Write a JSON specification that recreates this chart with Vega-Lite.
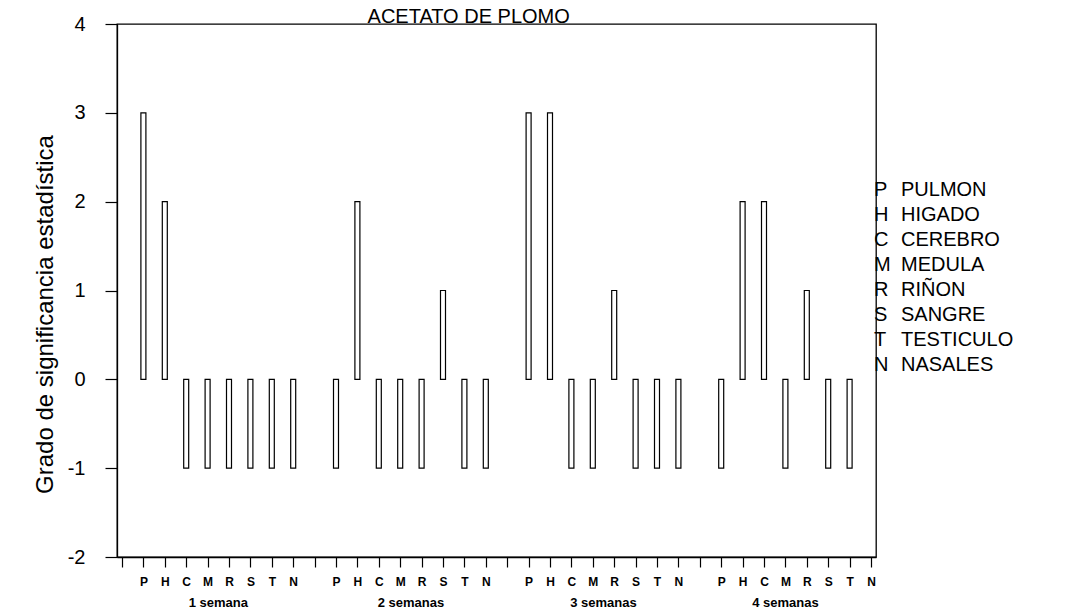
{
  "$schema": "https://vega.github.io/schema/vega-lite/v6.json",
  "width": 759,
  "height": 533,
  "autosize": "none",
  "padding": {"left": 117, "top": 24, "right": 193, "bottom": 56},
  "background": "white",
  "config": {
    "view": {"stroke": "black", "strokeWidth": 1.3},
    "font": "Liberation Sans",
    "axisX": {"labelOverlap": false, "labelFlush": false, "labelBound": false},
    "axisY": {"labelOverlap": false}
  },
  "datasets": {
    "bars": [
      {"week": "1 semana", "organ": "P", "idx": 1, "val": 3},
      {"week": "1 semana", "organ": "H", "idx": 2, "val": 2},
      {"week": "1 semana", "organ": "C", "idx": 3, "val": -1},
      {"week": "1 semana", "organ": "M", "idx": 4, "val": -1},
      {"week": "1 semana", "organ": "R", "idx": 5, "val": -1},
      {"week": "1 semana", "organ": "S", "idx": 6, "val": -1},
      {"week": "1 semana", "organ": "T", "idx": 7, "val": -1},
      {"week": "1 semana", "organ": "N", "idx": 8, "val": -1},
      {"week": "2 semanas", "organ": "P", "idx": 10, "val": -1},
      {"week": "2 semanas", "organ": "H", "idx": 11, "val": 2},
      {"week": "2 semanas", "organ": "C", "idx": 12, "val": -1},
      {"week": "2 semanas", "organ": "M", "idx": 13, "val": -1},
      {"week": "2 semanas", "organ": "R", "idx": 14, "val": -1},
      {"week": "2 semanas", "organ": "S", "idx": 15, "val": 1},
      {"week": "2 semanas", "organ": "T", "idx": 16, "val": -1},
      {"week": "2 semanas", "organ": "N", "idx": 17, "val": -1},
      {"week": "3 semanas", "organ": "P", "idx": 19, "val": 3},
      {"week": "3 semanas", "organ": "H", "idx": 20, "val": 3},
      {"week": "3 semanas", "organ": "C", "idx": 21, "val": -1},
      {"week": "3 semanas", "organ": "M", "idx": 22, "val": -1},
      {"week": "3 semanas", "organ": "R", "idx": 23, "val": 1},
      {"week": "3 semanas", "organ": "S", "idx": 24, "val": -1},
      {"week": "3 semanas", "organ": "T", "idx": 25, "val": -1},
      {"week": "3 semanas", "organ": "N", "idx": 26, "val": -1},
      {"week": "4 semanas", "organ": "P", "idx": 28, "val": -1},
      {"week": "4 semanas", "organ": "H", "idx": 29, "val": 2},
      {"week": "4 semanas", "organ": "C", "idx": 30, "val": 2},
      {"week": "4 semanas", "organ": "M", "idx": 31, "val": -1},
      {"week": "4 semanas", "organ": "R", "idx": 32, "val": 1},
      {"week": "4 semanas", "organ": "S", "idx": 33, "val": -1},
      {"week": "4 semanas", "organ": "T", "idx": 34, "val": -1}
    ],
    "legend": [
      {"code": "P", "name": "PULMON"},
      {"code": "H", "name": "HIGADO"},
      {"code": "C", "name": "CEREBRO"},
      {"code": "M", "name": "MEDULA"},
      {"code": "R", "name": "RIÑON"},
      {"code": "S", "name": "SANGRE"},
      {"code": "T", "name": "TESTICULO"},
      {"code": "N", "name": "NASALES"}
    ],
    "heading": [
      {"title": "ACETATO DE PLOMO"}
    ]
  },
  "layer": [
    {
      "layer": [
        {
          "data": {"name": "bars"},
          "mark": {"type": "bar", "width": 5, "fill": "white", "stroke": "black", "strokeWidth": 1.2},
          "encoding": {
            "x": {
              "field": "idx",
              "type": "quantitative",
              "scale": {"domain": [0, 35], "nice": false, "zero": false},
              "axis": {
                "values": [0,1,2,3,4,5,6,7,8,9,10,11,12,13,14,15,16,17,18,19,20,21,22,23,24,25,26,27,28,29,30,31,32,33,34,35],
                "labelExpr": "datum.value % 9 == 0 ? '' : substring('PHCMRSTN', datum.value % 9 - 1, datum.value % 9)",
                "title": null, "grid": false, "tickSize": 10, "tickColor": "black", "tickWidth": 1.2,
                "domainColor": "black", "domainWidth": 1.3, "labelFontSize": 12, "labelFontWeight": "bold",
                "labelColor": "black", "labelPadding": 9, "labelDx": 5,
                "labelOverlap": false, "labelFlush": false, "labelBound": false
              }
            },
            "y": {
              "field": "val",
              "type": "quantitative",
              "scale": {"domain": [-2, 4], "nice": false, "zero": false},
              "axis": {
                "values": [-2, -1, 0, 1, 2, 3, 4],
                "labelExpr": "'' + datum.value",
                "title": "Grado de significancia estadística",
                "grid": false,
                "tickSize": 12,
                "tickColor": "black",
                "tickWidth": 1.2,
                "domainColor": "black",
                "domainWidth": 1.3,
                "labelFontSize": 20,
                "labelColor": "black",
                "labelPadding": 20,
                "titleFont": "Liberation Sans",
                "titleFontSize": 24,
                "titleFontWeight": "normal",
                "titleColor": "black",
                "titlePadding": 10,
                "titleY": 290
              }
            },
            "y2": {"datum": 0}
          }
        },
        {
          "mark": {"type": "rule", "color": "black", "strokeWidth": 1.3},
          "encoding": {"y": {"datum": 0, "type": "quantitative"}}
        },
        {
          "data": {"name": "bars"},
          "mark": {"type": "text", "fontSize": 13, "fontWeight": "bold", "color": "black", "baseline": "middle"},
          "encoding": {
            "x": {
              "aggregate": "mean", "field": "idx", "type": "quantitative",
              "axis": {
                "values": [0,1,2,3,4,5,6,7,8,9,10,11,12,13,14,15,16,17,18,19,20,21,22,23,24,25,26,27,28,29,30,31,32,33,34,35],
                "labelExpr": "datum.value % 9 == 0 ? '' : substring('PHCMRSTN', datum.value % 9 - 1, datum.value % 9)",
                "title": null, "grid": false, "tickSize": 10, "tickColor": "black", "tickWidth": 1.2,
                "domainColor": "black", "domainWidth": 1.3, "labelFontSize": 12, "labelFontWeight": "bold",
                "labelColor": "black", "labelPadding": 9, "labelDx": 5,
                "labelOverlap": false, "labelFlush": false, "labelBound": false
              }
            },
            "y": {"datum": -2.52, "type": "quantitative"},
            "text": {"field": "week", "type": "nominal"},
            "detail": {"field": "week"}
          }
        },
        {
          "data": {"name": "heading"},
          "mark": {"type": "text", "fontSize": 20, "color": "black", "baseline": "alphabetic", "align": "center", "dy": -1},
          "encoding": {
            "x": {
              "datum": 16.2, "type": "quantitative",
              "axis": {
                "values": [0,1,2,3,4,5,6,7,8,9,10,11,12,13,14,15,16,17,18,19,20,21,22,23,24,25,26,27,28,29,30,31,32,33,34,35],
                "labelExpr": "datum.value % 9 == 0 ? '' : substring('PHCMRSTN', datum.value % 9 - 1, datum.value % 9)",
                "title": null, "grid": false, "tickSize": 10, "tickColor": "black", "tickWidth": 1.2,
                "domainColor": "black", "domainWidth": 1.3, "labelFontSize": 12, "labelFontWeight": "bold",
                "labelColor": "black", "labelPadding": 9, "labelDx": 5,
                "labelOverlap": false, "labelFlush": false, "labelBound": false
              }
            },
            "y": {"datum": 4, "type": "quantitative"},
            "text": {"field": "title", "type": "nominal"}
          }
        }
      ]
    },
    {
      "data": {"name": "legend"},
      "layer": [
        {
          "mark": {"type": "text", "align": "left", "baseline": "middle", "fontSize": 20, "color": "black", "dx": 3},
          "encoding": {
            "x": {
              "datum": 35, "type": "quantitative",
              "axis": {
                "values": [0,1,2,3,4,5,6,7,8,9,10,11,12,13,14,15,16,17,18,19,20,21,22,23,24,25,26,27,28,29,30,31,32,33,34,35],
                "labelExpr": "datum.value % 9 == 0 ? '' : substring('PHCMRSTN', datum.value % 9 - 1, datum.value % 9)",
                "title": null, "grid": false, "tickSize": 10, "tickColor": "black", "tickWidth": 1.2,
                "domainColor": "black", "domainWidth": 1.3, "labelFontSize": 12, "labelFontWeight": "bold",
                "labelColor": "black", "labelPadding": 9, "labelDx": 5,
                "labelOverlap": false, "labelFlush": false, "labelBound": false
              }
            },
            "y": {"field": "code", "type": "nominal", "sort": null, "scale": {"type": "point", "range": [166, 341], "padding": 0}, "axis": null},
            "text": {"field": "code", "type": "nominal"}
          }
        },
        {
          "mark": {"type": "text", "align": "left", "baseline": "middle", "fontSize": 20, "color": "black", "dx": 30},
          "encoding": {
            "x": {
              "datum": 35, "type": "quantitative",
              "axis": {
                "values": [0,1,2,3,4,5,6,7,8,9,10,11,12,13,14,15,16,17,18,19,20,21,22,23,24,25,26,27,28,29,30,31,32,33,34,35],
                "labelExpr": "datum.value % 9 == 0 ? '' : substring('PHCMRSTN', datum.value % 9 - 1, datum.value % 9)",
                "title": null, "grid": false, "tickSize": 10, "tickColor": "black", "tickWidth": 1.2,
                "domainColor": "black", "domainWidth": 1.3, "labelFontSize": 12, "labelFontWeight": "bold",
                "labelColor": "black", "labelPadding": 9, "labelDx": 5,
                "labelOverlap": false, "labelFlush": false, "labelBound": false
              }
            },
            "y": {"field": "code", "type": "nominal", "sort": null, "scale": {"type": "point", "range": [166, 341], "padding": 0}, "axis": null},
            "text": {"field": "name", "type": "nominal"}
          }
        }
      ]
    }
  ],
  "resolve": {"scale": {"y": "independent"}}
}
